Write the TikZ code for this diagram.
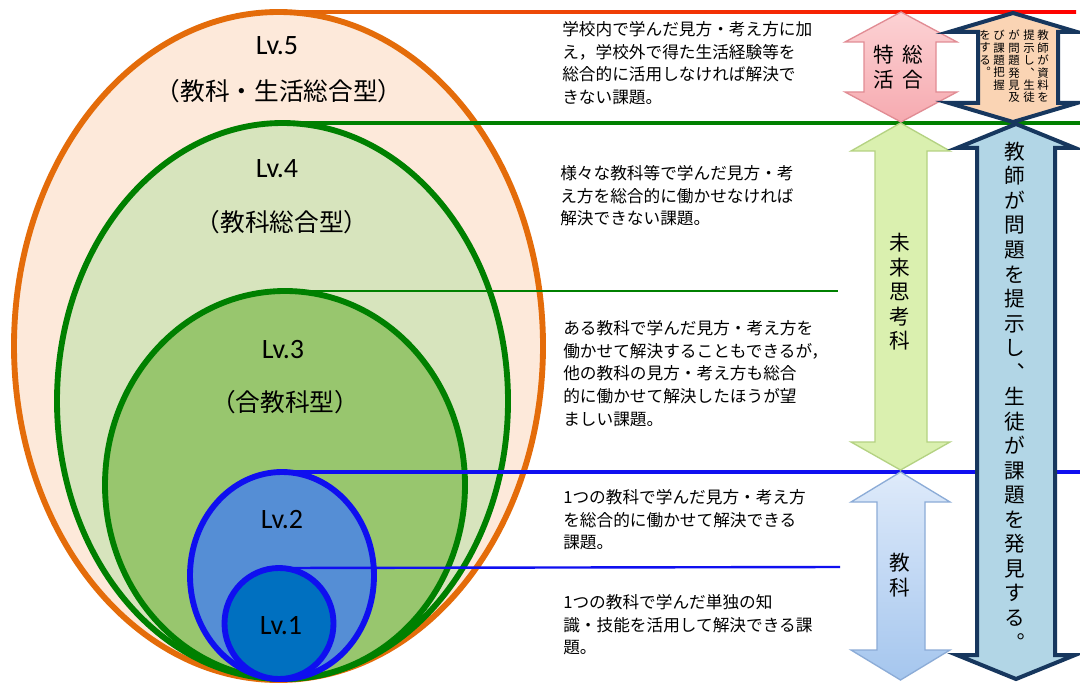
\documentclass[tikz,border=0pt]{standalone}
\usepackage{fontspec}
\setmainfont{Noto Sans CJK JP}
\newfontfamily\lvfont{Carlito}
\definecolor{orng}{RGB}{228,108,10}
\definecolor{grn}{RGB}{0,128,0}
\definecolor{blu}{RGB}{15,15,240}
\definecolor{fA}{RGB}{253,233,218}
\definecolor{fB}{RGB}{215,228,189}
\definecolor{fC}{RGB}{152,198,110}
\definecolor{fD}{RGB}{85,142,213}
\definecolor{fE}{RGB}{0,112,192}
\definecolor{navy}{RGB}{23,55,94}
\definecolor{pinkF}{RGB}{246,170,176}
\definecolor{pinkT}{RGB}{252,210,212}
\definecolor{pinkB}{RGB}{225,140,148}
\definecolor{grF}{RGB}{218,240,175}
\definecolor{grB}{RGB}{180,210,130}
\definecolor{blT}{RGB}{222,234,250}
\definecolor{blF}{RGB}{165,198,238}
\definecolor{blB}{RGB}{140,172,215}
\definecolor{peach}{RGB}{250,212,180}
\definecolor{skyF}{RGB}{178,214,230}
\makeatletter
\def\vc@comma{、}\def\vc@period{。}
\newcommand\vcol[2]{\vbox{\baselineskip=#1\lineskiplimit=-100pt\lineskip=0pt%
 \@tfor\vc@c:=#2\do{%
  \ifx\vc@c\vc@comma\hbox to 1em{\hss ︑\hss}%
  \else\ifx\vc@c\vc@period\hbox to 1em{\hss ︒\hss}%
  \else\hbox to 1em{\hss\vc@c\hss}\fi\fi}}}
\makeatother
\newcommand\dblarrow[8]{%
\path[#1] ({(#2+#5)/2},#6) -- (#5,{#6+#8}) -- (#4,{#6+#8}) -- (#4,{#7-#8}) -- (#5,{#7-#8}) -- ({(#2+#5)/2},#7) -- (#2,{#7-#8}) -- (#3,{#7-#8}) -- (#3,{#6+#8}) -- (#2,{#6+#8}) -- cycle;}
\tikzset{
 ring/.style={line width=4.4pt},
 lvlab/.style={font=\lvfont\fontsize{21pt}{22pt}\selectfont, inner sep=0pt},
 jplab/.style={font=\fontsize{18.5pt}{20pt}\selectfont, inner sep=0pt},
 desc/.style={font=\fontsize{12.5pt}{17pt}\selectfont, align=left, inner sep=0pt, anchor=north west},
 vtxt/.style={font=\fontsize{15.5pt}{18pt}\selectfont, inner sep=0pt},
 stxt/.style={font=\fontsize{8.6pt}{9pt}\selectfont, inner sep=0pt, anchor=north},
}
\begin{document}
\begin{tikzpicture}[x=0.75pt,y=-0.75pt]
\useasboundingbox[fill=white] (0,0) rectangle (1080,684);
% ellipses
\draw[ring, draw=orng, fill=fA] (278.5,346) ellipse [x radius=264.5, y radius=334];
\draw[ring, draw=grn, fill=fB] (282.5,401) ellipse [x radius=225.5, y radius=278];
\draw[ring, draw=grn, fill=fC] (285,485) ellipse [x radius=180, y radius=194];
\draw[ring, draw=blu, fill=fD] (282,575.5) ellipse [x radius=92, y radius=103.5];
\draw[ring, draw=blu, fill=fE] (279,623.5) ellipse [x radius=54.5, y radius=55.5];
% leader line anchors
\coordinate (t5) at (278.5,12);
\coordinate (t4) at (282.5,123);
\coordinate (t3) at (285,291);
\coordinate (t2) at (282,472);
\coordinate (t1) at (279,568);
\coordinate (r5) at (1076,12);
\coordinate (r4) at (1080,123);
\coordinate (r3) at (838,291);
\coordinate (r2) at (1080,472);
\coordinate (r1) at (840,567);
\shade[left color=orng, right color=red] (278.5,10.3) rectangle (1076,13.7);
\draw[grn, line width=2.4pt] (t4) -- (r4);
\draw[grn, line width=1.8pt] (t3) -- (r3);
\draw[blu, line width=2.4pt] (t2) -- (r2);
\draw[blu, line width=1.8pt] (t1) -- (r1);
% level labels
\node[lvlab] (l5) at (277,46) {Lv.5};
\node[jplab] (j5) at (279,91) {（教科・生活総合型）};
\node[lvlab] (l4) at (277,169) {Lv.4};
\node[jplab] (j4) at (282,222) {（教科総合型）};
\node[lvlab] (l3) at (283,350) {Lv.3};
\node[jplab] (j3) at (285,402) {（合教科型）};
\node[lvlab] (l2) at (282,520) {Lv.2};
\node[lvlab] (l1) at (281,626) {Lv.1};
% descriptions
\node[desc] (d5) at (562,21) {学校内で学んだ見方・考え方に加\\え，学校外で得た生活経験等を\\総合的に活用しなければ解決で\\きない課題。};
\node[desc] (d4) at (560,165) {様々な教科等で学んだ見方・考\\え方を総合的に働かせなければ\\解決できない課題。};
\node[desc] (d3) at (563,320) {ある教科で学んだ見方・考え方を\\働かせて解決することもできるが，\\他の教科の見方・考え方も総合\\的に働かせて解決したほうが望\\ましい課題。};
\node[desc] (d2) at (563,489) {1つの教科で学んだ見方・考え方\\を総合的に働かせて解決できる\\課題。};
\node[desc] (d1) at (563,594) {1つの教科で学んだ単独の知\\識・技能を活用して解決できる課\\題。};
% arrows
\dblarrow{draw=pinkB, line width=1pt, top color=pinkT, bottom color=pinkF}{845}{864}{936}{957}{12}{122}{30}
\dblarrow{draw=grB, line width=1pt, fill=grF}{851}{875}{927}{950}{123}{470}{28}
\dblarrow{draw=blB, line width=1pt, top color=blT, bottom color=blF}{851}{877}{925}{950}{472}{680}{30}
\dblarrow{draw=navy, line width=3pt, fill=peach}{949}{978}{1058}{1077}{13}{122}{19}
\dblarrow{draw=navy, line width=3pt, fill=skyF}{957}{977}{1055}{1075}{124}{679}{24}
% arrow texts
\node[vtxt] (sk) at (913,67) {\vcol{18.4pt}{総合}};
\node[vtxt] (tk) at (884,67) {\vcol{18.4pt}{特活}};
\node[vtxt] (mr) at (900,292) {\vcol{18.4pt}{未来思考科}};
\node[vtxt] (kk) at (900,575) {\vcol{18.4pt}{教科}};
\node[vtxt] (big) at (1015,396) {\vcol{18.4pt}{教師が問題を提示し、生徒が課題を発見する。}};
\node[stxt] (s1) at (1043,30) {\vcol{9.3pt}{教師が資料を}};
\node[stxt] (s2) at (1029,30) {\vcol{9.3pt}{提示し、生徒}};
\node[stxt] (s3) at (1014,30) {\vcol{9.3pt}{が問題発見及}};
\node[stxt] (s4) at (999,30) {\vcol{9.3pt}{び課題把握}};
\node[stxt] (s5) at (985,30) {\vcol{9.3pt}{をする。}};
\end{tikzpicture}
\end{document}
